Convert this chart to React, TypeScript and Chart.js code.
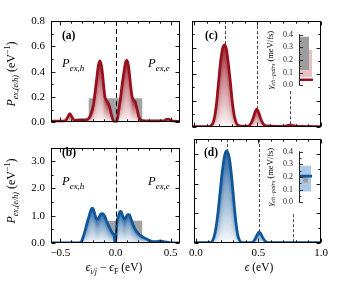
import React, { useEffect, useRef } from 'react';
import { Chart, registerables } from 'chart.js';

Chart.register(...registerables);

// ---------------- data ----------------
// panel (a): P_ex hole/electron distribution, weak field (eV^-1)
const aX = [-0.585,-0.5,-0.46,-0.44,-0.415,-0.39,-0.37,-0.33,-0.27,-0.245,-0.225,-0.2,-0.185,-0.17,-0.155,-0.141,-0.128,-0.116,-0.105,-0.095,-0.08,-0.065,-0.05,-0.035,-0.02,-0.008,0,0.01,0.02,0.03,0.045,0.06,0.077,0.09,0.102,0.115,0.127,0.14,0.152,0.165,0.18,0.195,0.21,0.225,0.245,0.3,0.4,0.44,0.465,0.48,0.5,0.53,0.585];
const aY = [0.01,0.01,0.012,0.03,0.07,0.035,0.015,0.02,0.02,0.03,0.06,0.14,0.24,0.35,0.45,0.485,0.45,0.37,0.27,0.2,0.17,0.15,0.11,0.055,0.015,0.003,0,0.005,0.04,0.1,0.19,0.3,0.4,0.47,0.49,0.46,0.38,0.27,0.2,0.175,0.16,0.11,0.05,0.022,0.015,0.012,0.012,0.013,0.025,0.027,0.015,0.01,0.008];
// panel (b)
const bX = [-0.585,-0.4,-0.33,-0.31,-0.295,-0.277,-0.26,-0.247,-0.23,-0.215,-0.205,-0.19,-0.175,-0.16,-0.145,-0.13,-0.115,-0.1,-0.08,-0.06,-0.04,-0.02,-0.012,-0.006,0,0.006,0.012,0.025,0.04,0.05,0.065,0.08,0.095,0.11,0.125,0.14,0.16,0.18,0.2,0.22,0.25,0.28,0.3,0.34,0.37,0.405,0.43,0.46,0.5,0.585];
const bY = [0.005,0.005,0.01,0.05,0.2,0.44,0.7,0.89,1.12,1.27,1.27,1.1,0.9,0.88,0.98,1.07,1.08,1.0,0.8,0.62,0.45,0.33,0.3,0.02,0,0.3,0.75,0.95,1.15,1.16,1.0,0.88,0.95,1.04,1.04,0.9,0.66,0.5,0.38,0.29,0.21,0.15,0.11,0.05,0.05,0.075,0.06,0.03,0.01,0.005];
// panel (c): energy distribution
const cX = [-0.015,0.05,0.1,0.125,0.14,0.155,0.167,0.178,0.188,0.198,0.207,0.216,0.225,0.241,0.255,0.266,0.277,0.288,0.298,0.309,0.319,0.332,0.345,0.37,0.42,0.44,0.46,0.475,0.494,0.51,0.525,0.545,0.57,0.65,0.72,0.755,0.78,0.82,1.0];
const cY = [0.003,0.003,0.003,0.006,0.015,0.045,0.1,0.18,0.28,0.38,0.47,0.54,0.59,0.62,0.59,0.52,0.43,0.33,0.23,0.14,0.08,0.035,0.015,0.006,0.006,0.015,0.05,0.095,0.135,0.11,0.065,0.025,0.008,0.005,0.007,0.015,0.01,0.004,0.003];
// panel (d)
const dX = [-0.015,0.1,0.12,0.133,0.146,0.157,0.167,0.178,0.188,0.198,0.207,0.217,0.227,0.236,0.246,0.256,0.267,0.277,0.287,0.297,0.307,0.317,0.326,0.336,0.347,0.36,0.38,0.44,0.46,0.478,0.492,0.505,0.518,0.532,0.547,0.565,0.59,1.0];
const dY = [0.01,0.01,0.02,0.08,0.23,0.45,0.73,1.1,1.52,1.92,2.3,2.62,2.9,3.05,3.1,3.03,2.85,2.55,2.15,1.7,1.22,0.8,0.48,0.24,0.1,0.03,0.01,0.01,0.05,0.18,0.3,0.37,0.32,0.2,0.1,0.03,0.01,0.01];

// grey reference boxes (x-range, height)
const aBoxRange = [-0.245, 0.245];
const aBoxHeight = 0.19;
const bBoxRange = [-0.245, 0.245];
const bBoxHeight = 0.82;

// vertical dashed markers
const fermiX = [0];
const fermiTop = [0.8];
const fermiTopB = [3.5];
const cLineX = [0.243, 0.5, 0.757];
const cLineTop = [0.8, 0.8, 0.27];
const dLineX = [0.245, 0.505, 0.773];
const dLineTop = [3.5, 3.5, 0.97];

// insets: gamma_eh-pairs (meV/fs)
const cInsetGrey = [0.12, 0.385];
const cInsetPink = [0.065, 0.28];
const cInsetRate = 0.043;
const dInsetBlue = [0.085, 0.29];
const dInsetGrey = [0.157, 0.2];
const dInsetRate = 0.207;

// ticks
const abXMajor = [-0.5, 0, 0.5];
const abXMinor = [-0.4, -0.3, -0.2, -0.1, 0.1, 0.2, 0.3, 0.4];
const cdXMajor = [0, 0.5, 1.0];
const cdXMinor = [0.1, 0.2, 0.3, 0.4, 0.6, 0.7, 0.8, 0.9];
const acYMajor = [0, 0.2, 0.4, 0.6, 0.8];
const acYMinor = [0.1, 0.3, 0.5, 0.7];
const bdYMajor = [0, 1, 2, 3];
const bdYMinor = [0.5, 1.5, 2.5];
const insetMajor = [0, 0.1, 0.2, 0.3, 0.4];
const insetMinor = [0.05, 0.15, 0.25, 0.35];

// ---------------- styling ----------------
const SERIF = '"Liberation Serif", "Times New Roman", "DejaVu Serif", serif';
const RED = [150, 16, 30];
const BLUE = [16, 86, 152];
const rgb = (c: number[]) => `rgb(${c[0]},${c[1]},${c[2]})`;
const mix = (c: number[], f: number) =>
  `rgb(${Math.round(255 + (c[0] - 255) * f)},${Math.round(255 + (c[1] - 255) * f)},${Math.round(255 + (c[2] - 255) * f)})`;

const fmt = (v: any) => {
  const n = Number(v);
  const s = Math.abs(n).toFixed(1);
  return n < -1e-9 ? '\u2212' + s : s;
};

type Seg = { t: string; it?: boolean; b?: boolean; sub?: boolean; sup?: boolean };

function drawRich(ctx: CanvasRenderingContext2D, segs: Seg[], x: number, y: number, size: number, align: 'left' | 'center', rot = 0) {
  ctx.save();
  ctx.translate(x, y);
  if (rot) ctx.rotate(rot);
  const fontOf = (s: Seg) => `${s.it ? 'italic ' : ''}${s.b ? 'bold ' : ''}${s.sub || s.sup ? Math.round(size * 0.7) : size}px ${SERIF}`;
  let w = 0;
  for (const s of segs) {
    ctx.font = fontOf(s);
    w += ctx.measureText(s.t).width;
  }
  let cx = align === 'center' ? -w / 2 : 0;
  ctx.textBaseline = 'alphabetic';
  ctx.textAlign = 'left';
  ctx.fillStyle = '#000';
  for (const s of segs) {
    ctx.font = fontOf(s);
    const dy = s.sub ? size * 0.28 : s.sup ? -size * 0.42 : 0;
    ctx.fillText(s.t, cx, dy);
    cx += ctx.measureText(s.t).width;
  }
  ctx.restore();
}

const yTitleSegs: Seg[] = [{ t: 'P', it: true }, { t: 'ex,(e/h)', it: true, sub: true }, { t: ' (eV' }, { t: '\u22121', sup: true }, { t: ')' }];
const pHole: Seg[] = [{ t: 'P', it: true }, { t: 'ex,h', it: true, sub: true }];
const pElec: Seg[] = [{ t: 'P', it: true }, { t: 'ex,e', it: true, sub: true }];
const xTitleAB: Seg[] = [{ t: '\u03f5', it: true }, { t: 'i/j', it: true, sub: true }, { t: ' \u2212 ' }, { t: '\u03f5', it: true }, { t: 'F', sub: true }, { t: ' (eV)' }];
const xTitleCD: Seg[] = [{ t: '\u03f5', it: true }, { t: ' (eV)' }];
const insetTitle: Seg[] = [{ t: '\u03b3', it: true }, { t: 'eh\u2212pairs', it: true, sub: true }, { t: ' (meV/fs)' }];

interface PanelSpec {
  left: number; top: number; w: number; h: number;
  pad: { left: number; top: number; right: number; bottom: number };
  yAxisW: number; xAxisH: number;
  xRange: number[]; yRange: number[];
  showX: boolean; showY: boolean;
  xMajor: number[]; xMinor: number[]; yMajor: number[]; yMinor: number[];
  xs: number[]; ys: number[]; color: number[];
  box?: { range: number[]; height: number };
  vx: number[]; vtop: number[]; vFront: boolean; vColor: string; vDash: number[]; vWidth: number;
  texts: (ctx: CanvasRenderingContext2D) => void;
}

function gradFill(chart: any, meta: any, color: number[]) {
  const ctx: CanvasRenderingContext2D = chart.ctx;
  const pts = meta.data.map((p: any) => ({ x: p.x, y: p.y }));
  if (pts.length < 2) return;
  const base = chart.scales.y.getPixelForValue(0);
  const { left, right, top, bottom } = chart.chartArea;
  ctx.save();
  ctx.beginPath();
  ctx.rect(left, top, right - left, bottom - top);
  ctx.clip();
  let j = 0;
  const x0 = Math.floor(pts[0].x);
  const x1 = Math.ceil(pts[pts.length - 1].x);
  for (let x = x0; x <= x1; x++) {
    const cx = x + 0.5;
    while (j < pts.length - 2 && pts[j + 1].x < cx) j++;
    const p0 = pts[j], p1 = pts[j + 1];
    const dx = p1.x - p0.x;
    const t = dx > 0 ? Math.max(0, Math.min(1, (cx - p0.x) / dx)) : 0;
    const yc = p0.y + (p1.y - p0.y) * t;
    if (base - yc < 0.5) continue;
    const g = ctx.createLinearGradient(0, yc, 0, base);
    g.addColorStop(0, mix(color, 0.92));
    g.addColorStop(0.4, mix(color, 0.5));
    g.addColorStop(1, mix(color, 0.03));
    ctx.fillStyle = g;
    ctx.fillRect(x, yc, 1, base - yc);
  }
  ctx.restore();
}

function buildPanel(spec: PanelSpec) {
  const drawV = (chart: any) => {
    const ctx: CanvasRenderingContext2D = chart.ctx;
    const { top, bottom } = chart.chartArea;
    ctx.save();
    ctx.strokeStyle = spec.vColor;
    ctx.lineWidth = spec.vWidth;
    ctx.setLineDash(spec.vDash);
    spec.vx.forEach((v, i) => {
      const px = Math.round(chart.scales.x.getPixelForValue(v)) + 0.5;
      const y1 = Math.max(top, chart.scales.y.getPixelForValue(spec.vtop[i]));
      ctx.beginPath();
      ctx.moveTo(px, y1);
      ctx.lineTo(px, bottom);
      ctx.stroke();
    });
    ctx.restore();
  };
  const decor = {
    id: 'decor',
    beforeDatasetsDraw(chart: any) { if (!spec.vFront) drawV(chart); },
    beforeDatasetDraw(chart: any, args: any) { if (args.index === 0) gradFill(chart, args.meta, spec.color); },
    afterDatasetsDraw(chart: any) { if (spec.vFront) drawV(chart); },
    afterDraw(chart: any) {
      const ctx: CanvasRenderingContext2D = chart.ctx;
      const { left, right, top, bottom } = chart.chartArea;
      const xs = chart.scales.x, ys = chart.scales.y;
      ctx.save();
      ctx.strokeStyle = '#000';
      ctx.lineWidth = 1;
      const L = Math.round(left) + 0.5, R = Math.round(right) - 0.5, T = Math.round(top) + 0.5, B = Math.round(bottom) - 0.5;
      ctx.strokeRect(L, T, R - L, B - T);
      ctx.lineWidth = 0.9;
      const xt = (v: number, len: number) => {
        const px = Math.round(xs.getPixelForValue(v)) + 0.5;
        ctx.beginPath();
        ctx.moveTo(px, B); ctx.lineTo(px, B - len);
        ctx.moveTo(px, T); ctx.lineTo(px, T + len);
        ctx.stroke();
      };
      const yt = (v: number, len: number) => {
        const py = Math.round(ys.getPixelForValue(v)) + 0.5;
        ctx.beginPath();
        ctx.moveTo(L, py); ctx.lineTo(L + len, py);
        ctx.moveTo(R, py); ctx.lineTo(R - len, py);
        ctx.stroke();
      };
      spec.xMajor.forEach(v => xt(v, 4));
      spec.xMinor.forEach(v => xt(v, 2.2));
      spec.yMajor.forEach(v => yt(v, 4));
      spec.yMinor.forEach(v => yt(v, 2.2));
      ctx.restore();
      ctx.save();
      ctx.translate(-spec.left, -spec.top);
      spec.texts(ctx);
      ctx.restore();
    },
  };

  const datasets: any[] = [
    {
      data: spec.xs.map((x, i) => ({ x, y: spec.ys[i] })),
      borderColor: rgb(spec.color),
      borderWidth: 2.7,
      fill: false,
      pointRadius: 0,
      cubicInterpolationMode: 'monotone',
    },
  ];
  if (spec.box) {
    datasets.push({
      data: [{ x: spec.box.range[0], y: spec.box.height }, { x: spec.box.range[1], y: spec.box.height }],
      borderWidth: 0,
      backgroundColor: '#a2a2a2',
      fill: 'origin',
      pointRadius: 0,
    });
  }

  return {
    type: 'line' as const,
    data: { datasets },
    options: {
      animation: false,
      responsive: false,
      events: [],
      layout: { padding: spec.pad },
      plugins: { legend: { display: false }, tooltip: { enabled: false } },
      scales: {
        x: {
          type: 'linear',
          min: spec.xRange[0],
          max: spec.xRange[1],
          display: spec.showX,
          grid: { display: false, drawTicks: false },
          border: { display: false },
          ticks: { font: { family: SERIF, size: 11 }, color: '#000', padding: 4, maxRotation: 0, autoSkip: false, callback: fmt },
          afterBuildTicks: (s: any) => { s.ticks = spec.xMajor.map(value => ({ value })); },
          afterFit: (s: any) => { s.height = spec.xAxisH; },
        },
        y: {
          type: 'linear',
          min: spec.yRange[0],
          max: spec.yRange[1],
          display: spec.showY,
          grid: { display: false, drawTicks: false },
          border: { display: false },
          ticks: { font: { family: SERIF, size: 11 }, color: '#000', padding: 6, autoSkip: false, callback: fmt },
          afterBuildTicks: (s: any) => { s.ticks = spec.yMajor.map(value => ({ value })); },
          afterFit: (s: any) => { s.width = spec.yAxisW; },
        },
      },
    },
    plugins: [decor],
  };
}

interface InsetSpec {
  left: number; top: number; w: number; h: number;
  pad: { left: number; top: number; right: number; bottom: number };
  yAxisW: number;
  datasets: any[];
  titleX: number;
}

function buildInset(spec: InsetSpec) {
  const decor = {
    id: 'insetDecor',
    afterDraw(chart: any) {
      const ctx: CanvasRenderingContext2D = chart.ctx;
      const { left, top, bottom } = chart.chartArea;
      const ys = chart.scales.y;
      const L = Math.round(left) + 0.5;
      ctx.save();
      ctx.strokeStyle = '#222';
      ctx.lineWidth = 1;
      ctx.beginPath();
      ctx.moveTo(L, ys.getPixelForValue(0.4) - 0.5);
      ctx.lineTo(L, ys.getPixelForValue(0) + 0.5);
      ctx.stroke();
      ctx.lineWidth = 0.9;
      const yt = (v: number, len: number) => {
        const py = Math.round(ys.getPixelForValue(v)) + 0.5;
        ctx.beginPath();
        ctx.moveTo(L, py); ctx.lineTo(L + len, py);
        ctx.stroke();
      };
      insetMajor.forEach(v => yt(v, 3.5));
      insetMinor.forEach(v => yt(v, 2));
      ctx.restore();
      drawRich(ctx, insetTitle, spec.titleX - spec.left, (top + bottom) / 2, 8.5, 'center', -Math.PI / 2);
    },
  };
  return {
    type: 'line' as const,
    data: { datasets: spec.datasets },
    options: {
      animation: false,
      responsive: false,
      events: [],
      layout: { padding: spec.pad },
      plugins: { legend: { display: false }, tooltip: { enabled: false } },
      elements: { point: { radius: 0 }, line: { tension: 0 } },
      scales: {
        x: { type: 'linear', min: 0, max: 1, display: false },
        y: {
          type: 'linear',
          min: 0,
          max: 0.4,
          grid: { display: false, drawTicks: false },
          border: { display: false },
          ticks: { font: { family: SERIF, size: 8 }, color: '#222', padding: 6, autoSkip: false, callback: fmt },
          afterBuildTicks: (s: any) => { s.ticks = insetMajor.map(value => ({ value })); },
          afterFit: (s: any) => { s.width = spec.yAxisW; },
        },
      },
    },
    plugins: [decor],
  };
}

const rangeSet = (x0: number, x1: number, range: number[], color: string) => ({
  data: [{ x: x0, y: range[1] }, { x: x1, y: range[1] }],
  borderWidth: 0,
  backgroundColor: color,
  fill: { target: { value: range[0] } },
  pointRadius: 0,
});
const rateSet = (x1: number, v: number, color: string) => ({
  data: [{ x: 0, y: v }, { x: x1, y: v }],
  borderColor: color,
  borderWidth: 2.6,
  fill: false,
  pointRadius: 0,
});

const panelA: PanelSpec = {
  left: 0, top: 0, w: 185, h: 135,
  pad: { left: 0, top: 21, right: 5, bottom: 8 }, yAxisW: 51, xAxisH: 0,
  xRange: [-0.585, 0.585], yRange: [0, 0.8], showX: false, showY: true,
  xMajor: abXMajor, xMinor: abXMinor, yMajor: acYMajor, yMinor: acYMinor,
  xs: aX, ys: aY, color: RED, box: { range: aBoxRange, height: aBoxHeight },
  vx: fermiX, vtop: fermiTop, vFront: true, vColor: '#000', vDash: [5, 3], vWidth: 1,
  texts: (ctx) => {
    drawRich(ctx, yTitleSegs, 15, 74, 12, 'center', -Math.PI / 2);
    drawRich(ctx, [{ t: '(a)', b: true }], 62, 39, 11.5, 'left');
    drawRich(ctx, pHole, 62, 67, 12.5, 'left');
    drawRich(ctx, pElec, 148, 67, 12.5, 'left');
  },
};
const panelB: PanelSpec = {
  left: 0, top: 135, w: 185, h: 147,
  pad: { left: 0, top: 4, right: 5, bottom: 19 }, yAxisW: 51, xAxisH: 20,
  xRange: [-0.585, 0.585], yRange: [0, 3.5], showX: true, showY: true,
  xMajor: abXMajor, xMinor: abXMinor, yMajor: bdYMajor, yMinor: bdYMinor,
  xs: bX, ys: bY, color: BLUE, box: { range: bBoxRange, height: bBoxHeight },
  vx: fermiX, vtop: fermiTopB, vFront: true, vColor: '#000', vDash: [5, 3], vWidth: 1,
  texts: (ctx) => {
    drawRich(ctx, yTitleSegs, 15, 191, 12, 'center', -Math.PI / 2);
    drawRich(ctx, [{ t: '(b)', b: true }], 62, 156, 11.5, 'left');
    drawRich(ctx, pHole, 62, 185, 12.5, 'left');
    drawRich(ctx, pElec, 148, 185, 12.5, 'left');
    drawRich(ctx, xTitleAB, 114, 271, 11.5, 'center');
  },
};
const panelC: PanelSpec = {
  left: 185, top: 0, w: 153, h: 135,
  pad: { left: 7, top: 21, right: 17, bottom: 8 }, yAxisW: 0, xAxisH: 0,
  xRange: [-0.015, 1.0], yRange: [0, 0.8], showX: false, showY: false,
  xMajor: cdXMajor, xMinor: cdXMinor, yMajor: acYMajor, yMinor: acYMinor,
  xs: cX, ys: cY, color: RED,
  vx: cLineX, vtop: cLineTop, vFront: false, vColor: '#333', vDash: [3, 2], vWidth: 0.9,
  texts: (ctx) => {
    drawRich(ctx, [{ t: '(c)', b: true }], 205, 39, 11.5, 'left');
  },
};
const panelD: PanelSpec = {
  left: 185, top: 135, w: 153, h: 147,
  pad: { left: 7, top: 4, right: 17, bottom: 19 }, yAxisW: 0, xAxisH: 20,
  xRange: [-0.015, 1.0], yRange: [0, 3.5], showX: true, showY: false,
  xMajor: cdXMajor, xMinor: cdXMinor, yMajor: bdYMajor, yMinor: bdYMinor,
  xs: dX, ys: dY, color: BLUE,
  vx: dLineX, vtop: dLineTop, vFront: false, vColor: '#333', vDash: [3, 2], vWidth: 0.9,
  texts: (ctx) => {
    drawRich(ctx, [{ t: '(d)', b: true }], 204, 156, 11.5, 'left');
    drawRich(ctx, xTitleCD, 259, 271, 11.5, 'center');
  },
};

const insetC: InsetSpec = {
  left: 258, top: 24, w: 60, h: 72,
  pad: { left: 0, top: 9, right: 4, bottom: 7 }, yAxisW: 41, titleX: 273,
  datasets: [
    rateSet(0.93, cInsetRate, rgb(RED)),
    rangeSet(0, 0.67, cInsetGrey, '#9d9d9d'),
    rangeSet(0, 0.87, cInsetPink, 'rgba(214,140,146,0.55)'),
  ],
};
const insetD: InsetSpec = {
  left: 258, top: 141, w: 60, h: 72,
  pad: { left: 0, top: 9, right: 4, bottom: 6 }, yAxisW: 41, titleX: 273,
  datasets: [
    rateSet(0.87, dInsetRate, rgb(BLUE)),
    rangeSet(0.27, 0.6, dInsetGrey, '#9d9d9d'),
    rangeSet(0, 0.8, dInsetBlue, 'rgba(150,188,224,0.8)'),
  ],
};

function ChartCanvas({ left, top, w, h, make }: { left: number; top: number; w: number; h: number; make: () => any }) {
  const ref = useRef<HTMLCanvasElement>(null);
  useEffect(() => {
    if (!ref.current) return;
    const chart = new Chart(ref.current, make());
    return () => chart.destroy();
  }, []);
  return <canvas ref={ref} width={w} height={h} style={{ position: 'absolute', left, top, width: w, height: h }} />;
}

export default function App() {
  return (
    <div style={{ position: 'absolute', left: 0, top: 0, width: 338, height: 282, background: '#fff', overflow: 'hidden' }}>
      {[panelA, panelB, panelC, panelD].map((p, i) => (
        <ChartCanvas key={'p' + i} left={p.left} top={p.top} w={p.w} h={p.h} make={() => buildPanel(p)} />
      ))}
      {[insetC, insetD].map((p, i) => (
        <ChartCanvas key={'i' + i} left={p.left} top={p.top} w={p.w} h={p.h} make={() => buildInset(p)} />
      ))}
    </div>
  );
}
